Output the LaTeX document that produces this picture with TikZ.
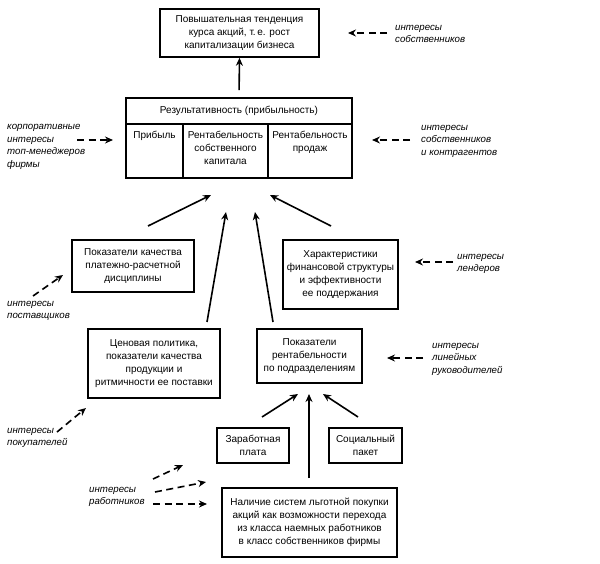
\documentclass[tikz,border=0pt]{standalone}
\usepackage{fontspec}
\setmainfont{Liberation Sans}
\usetikzlibrary{arrows.meta}
\begin{document}
\begin{tikzpicture}[x=1pt,y=-1pt,
  box/.style={draw,line width=1.6pt,inner sep=0pt,align=center,
    font=\fontsize{10}{12.8}\selectfont},
  ctext/.style={inner sep=0pt,align=center,anchor=north,
    font=\fontsize{10}{12.8}\selectfont},
  lbl/.style={inner sep=0pt,align=left,anchor=west,
    font=\fontsize{9.7}{12.6}\selectfont\itshape},
  arr/.style={line width=1.6pt,-{Stealth[length=8pt,width=7pt]}},
  darr/.style={line width=1.6pt,dash pattern=on 7pt off 4.5pt,-{Stealth[length=8pt,width=7pt]}}
]
\useasboundingbox (0,0) rectangle (600,564);
% boxes
\node[box,minimum width=159pt,minimum height=48pt] (top) at (239.5,33)
  {Повышательная тенденция\\курса акций, т.\,е. рост\\капитализации бизнеса};
\node[box,minimum width=226pt,minimum height=26pt] (hdr) at (239,111)
  {Результативность (прибыльность)};
\node[box,minimum width=57pt,minimum height=54pt] (c1) at (154.5,151) {};
\node[box,minimum width=85pt,minimum height=54pt] (c2) at (225.5,151) {};
\node[box,minimum width=84pt,minimum height=54pt] (c3) at (310,151) {};
\node[ctext] (t1) at (154.5,131) {Прибыль};
\node[ctext] (t2) at (225.5,131) {Рентабельность\\собственного\\капитала};
\node[ctext] (t3) at (310,131) {Рентабельность\\продаж};
\node[box,minimum width=122pt,minimum height=52pt] (kach) at (133,266)
  {Показатели качества\\платежно-расчетной\\дисциплины};
\node[box,minimum width=115pt,minimum height=69pt] (har) at (340.5,274.5)
  {Характеристики\\финансовой структуры\\и эффективности\\ее поддержания};
\node[box,minimum width=132pt,minimum height=69pt] (cen) at (154,363.5)
  {Ценовая политика,\\показатели качества\\продукции и\\ритмичности ее поставки};
\node[box,minimum width=105pt,minimum height=54pt] (pokr) at (309.5,356)
  {Показатели\\рентабельности\\по подразделениям};
\node[box,minimum width=72pt,minimum height=35pt] (zar) at (253,445.5)
  {Заработная\\плата};
\node[box,minimum width=73pt,minimum height=35pt] (soc) at (365.5,445.5)
  {Социальный\\пакет};
\node[box,minimum width=175pt,minimum height=69pt] (nal) at (309.5,522.5)
  {Наличие систем льготной покупки\\акций как возможности перехода\\из класса наемных работников\\в класс собственников фирмы};
% solid arrows
\draw[arr,shorten <=7pt] (hdr.north) -- (top.south);
\coordinate (a1s) at (148,226); \coordinate (a1e) at (211,195);
\coordinate (a2s) at (207,322); \coordinate (a2e) at (226,212);
\coordinate (a3s) at (273,322); \coordinate (a3e) at (255,212);
\coordinate (a4s) at (331,226); \coordinate (a4e) at (270,195);
\draw[arr] (a1s) -- (a1e);
\draw[arr] (a2s) -- (a2e);
\draw[arr] (a3s) -- (a3e);
\draw[arr] (a4s) -- (a4e);
\coordinate (b1s) at (262,417); \coordinate (b1e) at (298,394);
\coordinate (b2s) at (309,478); \coordinate (b2e) at (309,394);
\coordinate (b3s) at (358,417); \coordinate (b3e) at (323,394);
\draw[arr] (b1s) -- (b1e);
\draw[arr] (b2s) -- (b2e);
\draw[arr] (b3s) -- (b3e);
% labels
\node[lbl] (l1) at (395,34) {интересы\\собственников};
\node[lbl] (l2) at (7,147) {корпоративные\\интересы\\топ-менеджеров\\фирмы};
\node[lbl] (l3) at (421,141) {интересы\\собственников\\и контрагентов};
\node[lbl] (l4) at (457,264) {интересы\\лендеров};
\node[lbl] (l5) at (7,311) {интересы\\поставщиков};
\node[lbl] (l6) at (432,359) {интересы\\линейных\\руководителей};
\node[lbl] (l7) at (7,438) {интересы\\покупателей};
\node[lbl] (l8) at (89,497) {интересы\\работников};
% dashed arrows
\coordinate (d1s) at (387,33); \coordinate (d1e) at (348,33);
\coordinate (d2s) at (77,140); \coordinate (d2e) at (113,140);
\coordinate (d3s) at (410,140); \coordinate (d3e) at (372,140);
\coordinate (d4s) at (453,262); \coordinate (d4e) at (415,262);
\coordinate (d5s) at (33,296); \coordinate (d5e) at (63,275);
\coordinate (d6s) at (423,358); \coordinate (d6e) at (387,358);
\coordinate (d7s) at (57,432); \coordinate (d7e) at (86,408);
\coordinate (d8s) at (153,479); \coordinate (d8e) at (183,465);
\coordinate (d9s) at (155,492); \coordinate (d9e) at (206,482);
\coordinate (d10s) at (153,504); \coordinate (d10e) at (207,504);
\draw[darr] (d1s) -- (d1e);
\draw[darr] (d2s) -- (d2e);
\draw[darr] (d3s) -- (d3e);
\draw[darr] (d4s) -- (d4e);
\draw[darr] (d5s) -- (d5e);
\draw[darr] (d6s) -- (d6e);
\draw[darr] (d7s) -- (d7e);
\draw[darr] (d8s) -- (d8e);
\draw[darr] (d9s) -- (d9e);
\draw[darr] (d10s) -- (d10e);
\end{tikzpicture}
\end{document}
